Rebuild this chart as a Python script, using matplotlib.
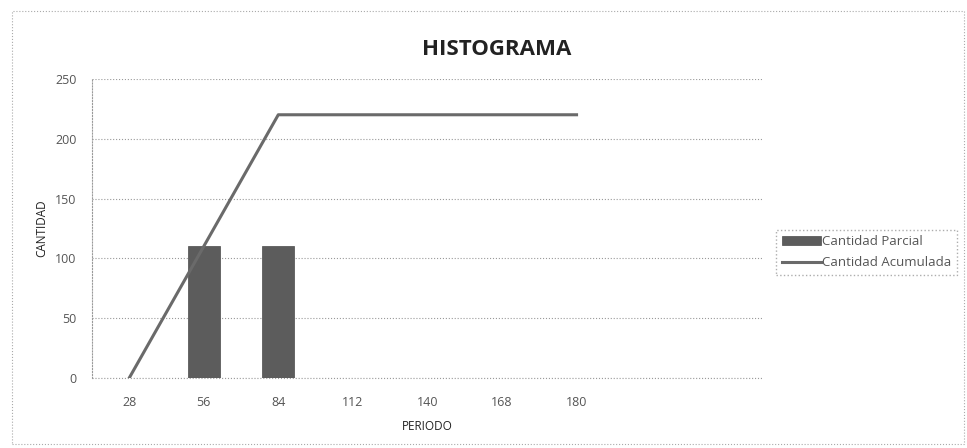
import matplotlib
matplotlib.use("Agg")
from matplotlib import pyplot as plt
from matplotlib.patches import Rectangle

# Data
periodos = ["28", "56", "84", "112", "140", "168", "180", "", ""]
cantidad_parcial = [0, 110, 110, 0, 0, 0, 0, 0, 0]
cantidad_acumulada = [0, 110, 220, 220, 220, 220, 220]
y_ticks = [0, 50, 100, 150, 200, 250]

plt.rcParams['font.family'] = ['Open Sans', 'DejaVu Sans']

fig = plt.figure(figsize=(9.67, 4.48), dpi=100)
ax = fig.add_axes([0.095, 0.156, 0.694, 0.668])

x = list(range(len(periodos)))
bars = ax.bar(x, cantidad_parcial, width=0.43, color='#5c5c5c', edgecolor='#4a4a4a',
              linewidth=0.5, label='Cantidad Parcial', zorder=3)
line, = ax.plot(x[:len(cantidad_acumulada)], cantidad_acumulada, color='#6a6a6a',
                linewidth=2.2, label='Cantidad Acumulada', zorder=4)

ax.set_xlim(-0.5, len(periodos) - 0.5)
ax.set_ylim(0, 250)
ax.set_yticks(y_ticks)
ax.set_xticks(x)
ax.set_xticklabels(periodos)
ax.tick_params(axis='both', colors='#555555', labelsize=9, length=0)
ax.tick_params(axis='x', pad=13)
ax.tick_params(axis='y', pad=11)

ax.grid(axis='y', linestyle=':', color='#9a9a9a', linewidth=0.8, zorder=0)
ax.axhline(0, linestyle=':', color='#9a9a9a', linewidth=0.8, zorder=1, clip_on=False)
for s in ['top', 'right', 'bottom']:
    ax.spines[s].set_visible(False)
ax.spines['left'].set_linestyle(':')
ax.spines['left'].set_color('#9a9a9a')

ax.set_xlabel("PERIODO", fontsize=8.5, color='#222222', labelpad=8)
ax.set_ylabel("CANTIDAD", fontsize=8.5, color='#222222', labelpad=5)
fig.text(0.514, 0.89, "HISTOGRAMA", ha='center', va='center',
         fontsize=16, fontweight='bold', color='#222222')

leg = ax.legend([bars, line], ['Cantidad Parcial', 'Cantidad Acumulada'],
                loc='center left', bbox_to_anchor=(1.01, 0.42), frameon=True,
                fontsize=9.5, handlelength=3.0, handletextpad=0.1,
                borderpad=0.4, labelspacing=0.6, fancybox=False)
leg.get_frame().set_edgecolor('#999999')
leg.get_frame().set_linestyle(':')
for t in leg.get_texts():
    t.set_color('#555555')

# dotted chart border
fig.patches.append(Rectangle((0.012, 0.01), 0.985, 0.965, transform=fig.transFigure,
                             fill=False, edgecolor='#aaaaaa', linestyle=':', linewidth=0.8))

fig.savefig("out.png", dpi=100)
